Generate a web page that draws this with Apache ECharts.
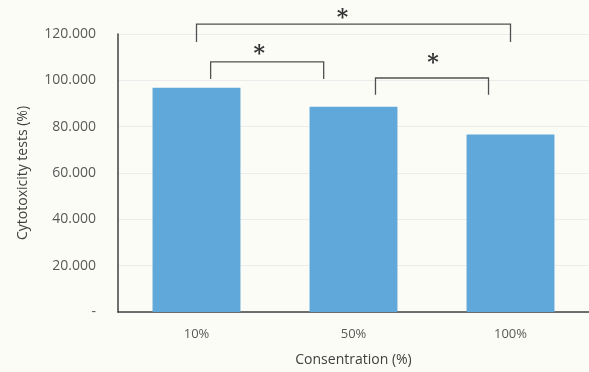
<!DOCTYPE html>
<html>
<head>
<meta charset="utf-8">
<script src="https://cdn.jsdelivr.net/npm/echarts@6/dist/echarts.min.js"></script>
<style>
  html, body { margin: 0; padding: 0; background: #fcfcf7; }
  #chart { width: 589px; height: 372px; }
</style>
</head>
<body>
<div id="chart"></div>
<script>
const categories = ['10%', '50%', '100%'];
const values = [96.8, 88.6, 76.6];

// significance brackets: [leftCat, rightCat, barValue, legValue, starCat, starValue]
const brackets = [
  [0, 2, 124.3, 116.6, 0.93, 128.6],
  [0.09, 0.81, 108.0, 100.6, 0.40, 113.0],
  [1.14, 1.86, 101.0, 93.8, 1.506, 109.0],
];

const chart = echarts.init(document.getElementById('chart'));

// category axis rounds fractional indexes, so add the fraction by hand
function catPoint(api, c, v) {
  const base = Math.floor(c);
  const p = api.coord([base, v]);
  const band = api.size([1, 0])[0];
  return [p[0] + (c - base) * band, p[1]];
}

const option = {
  backgroundColor: '#fcfcf7',
  textStyle: { fontFamily: 'Open Sans' },
  grid: { left: 118, right: 0, top: 34, bottom: 59 },
  xAxis: {
    type: 'category',
    data: categories,
    name: 'Consentration (%)',
    nameLocation: 'middle',
    nameGap: 41,
    nameTextStyle: { color: '#404040', fontSize: 14 },
    axisLine: { lineStyle: { color: '#404040', width: 1.5 } },
    axisTick: { show: false },
    axisLabel: { color: '#595959', fontSize: 13, margin: 16 },
  },
  yAxis: {
    type: 'value',
    min: 0,
    max: 120,
    interval: 20,
    name: 'Cytotoxicity tests (%)',
    nameLocation: 'middle',
    nameGap: 88,
    nameTextStyle: { color: '#404040', fontSize: 14 },
    axisLine: { show: true, lineStyle: { color: '#404040', width: 1.5 } },
    axisTick: { show: false },
    axisLabel: {
      color: '#595959',
      fontSize: 14,
      margin: 22,
      formatter: (v) => (v === 0 ? '-' : v.toFixed(3)),
    },
    splitLine: { lineStyle: { color: '#ececec' } },
  },
  series: [
    {
      type: 'bar',
      data: values,
      barWidth: '56%',
      itemStyle: { color: '#60a8da' },
    },
    {
      type: 'custom',
      clip: false,
      silent: true,
      data: brackets.map((b) => [b[0], b[2]]),
      renderItem(params, api) {
        const b = brackets[params.dataIndex];
        const l = catPoint(api, b[0], b[2]);
        const r = catPoint(api, b[1], b[2]);
        const legY = api.coord([0, b[3]])[1];
        const s = catPoint(api, b[4], b[5]);
        return {
          type: 'group',
          children: [
            {
              type: 'polyline',
              shape: { points: [[l[0], legY], l, r, [r[0], legY]] },
              style: { stroke: '#505050', lineWidth: 1.3, fill: null },
            },
            {
              type: 'text',
              style: {
                text: '*',
                x: s[0],
                y: s[1] + 4,
                align: 'center',
                verticalAlign: 'middle',
                font: 'bold 22px "DejaVu Serif"',
                fill: '#333',
              },
            },
          ],
        };
      },
    },
  ],
};

chart.setOption(option);
</script>
</body>
</html>
